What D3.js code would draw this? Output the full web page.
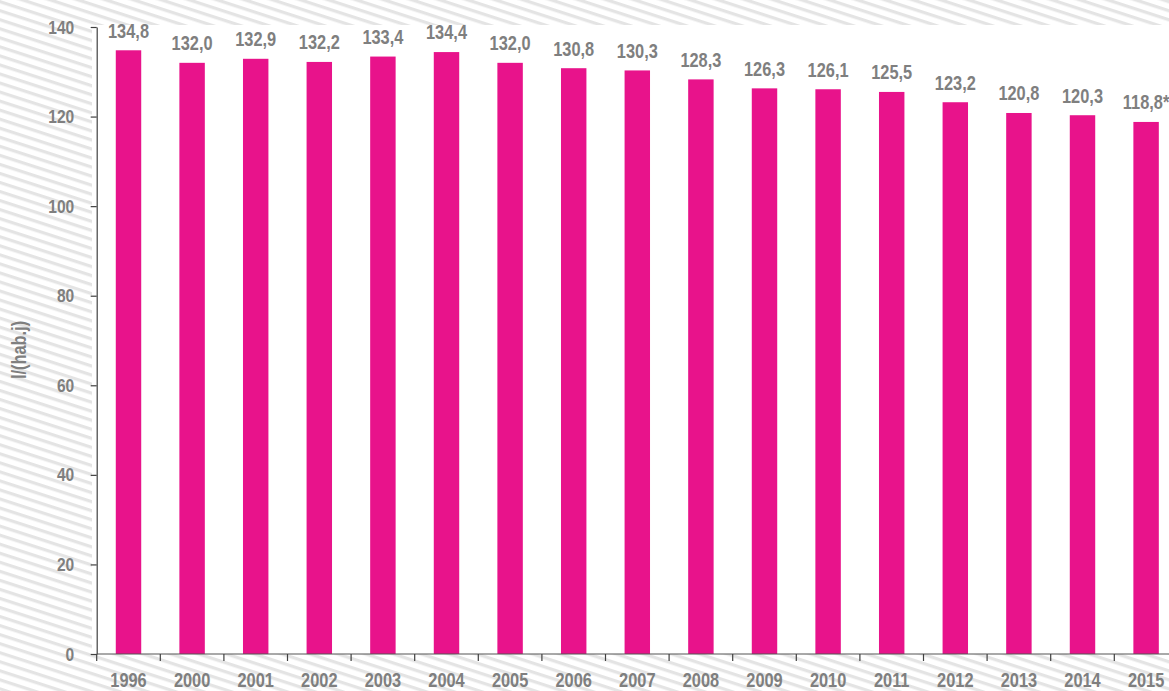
<!DOCTYPE html>
<html>
<head>
<meta charset="utf-8">
<script src="https://cdn.jsdelivr.net/npm/d3@7"></script>
<style>
    body { margin: 0; background: #fff; }
    svg { display: block; }
    text { font-family: "Liberation Sans", Arial, sans-serif; font-weight: bold; fill: #7f7f7f; }
</style>
</head>
<body>
<div id="chart"></div>
<script>
// Chart size
const width = 1169;
const height = 691;

// Data
const years = ["1996", "2000", "2001", "2002", "2003", "2004", "2005", "2006", "2007",
    "2008", "2009", "2010", "2011", "2012", "2013", "2014", "2015"];
const values = [134.8, 132.0, 132.9, 132.2, 133.4, 134.4, 132.0, 130.8, 130.3,
    128.3, 126.3, 126.1, 125.5, 123.2, 120.8, 120.3, 118.8];
const labels = ["134,8", "132,0", "132,9", "132,2", "133,4", "134,4", "132,0", "130,8", "130,3",
    "128,3", "126,3", "126,1", "125,5", "123,2", "120,8", "120,3", "118,8*"];
const yTicks = [0, 20, 40, 60, 80, 100, 120, 140];
const yTitle = "l/(hab.j)";

// Style
const STYLES = {
    bar: "#e8138b",
    text: "#7f7f7f",
    stripe: "#e4e4e4",
    axis: "#404040",
    narrow: 0.82   // horizontal squeeze, gives a condensed look
};

const svg = d3.select("#chart")
    .append("svg")
    .attr("width", width)
    .attr("height", height);

// Striped background
const pattern = svg.append("defs")
    .append("pattern")
    .attr("id", "stripes")
    .attr("patternUnits", "userSpaceOnUse")
    .attr("width", 20)
    .attr("height", 8.6)
    .attr("patternTransform", "rotate(18)");
pattern.append("rect")
    .attr("width", 20).attr("height", 8.6).attr("fill", "#fff");
pattern.append("rect")
    .attr("y", 0).attr("width", 20).attr("height", 3.2).attr("fill", STYLES.stripe);

svg.append("rect")
    .attr("width", width)
    .attr("height", height)
    .attr("fill", "url(#stripes)");

// Scales
const x = d3.scaleBand()
    .domain(years)
    .range([96.7, 1177.9])
    .paddingInner(0.6)
    .paddingOuter(0.3);

const y = d3.scaleLinear()
    .domain([0, 140])
    .range([654, 27]);

// White plot area
svg.append("rect")
    .attr("x", 92)
    .attr("y", 25)
    .attr("width", width - 92)
    .attr("height", y(0) - 25)
    .attr("fill", "#fff");

// Bars
svg.selectAll("rect.bar")
    .data(years)
    .enter()
    .append("rect")
    .attr("class", "bar")
    .attr("x", d => x(d))
    .attr("y", (d, i) => y(values[i]))
    .attr("width", x.bandwidth())
    .attr("height", (d, i) => y(0) - y(values[i]))
    .attr("fill", STYLES.bar);

// Value labels
svg.selectAll("text.value")
    .data(years)
    .enter()
    .append("text")
    .attr("class", "value")
    .attr("transform", (d, i) =>
        `translate(${x(d) + x.bandwidth() / 2},${y(values[i]) - 12.6}) scale(${STYLES.narrow},1)`)
    .attr("text-anchor", "middle")
    .style("font-size", "20px")
    .text((d, i) => labels[i]);

// Y axis
const yAxis = svg.append("g")
    .attr("transform", `translate(${x.range()[0]},0)`)
    .call(d3.axisLeft(y).tickValues(yTicks).tickSize(6).tickSizeOuter(0));
yAxis.select(".domain").attr("stroke", STYLES.axis).attr("stroke-width", 1.2);
yAxis.selectAll(".tick line").attr("stroke", STYLES.axis).attr("stroke-width", 1.2);
yAxis.selectAll(".tick text")
    .attr("x", 0)
    .attr("transform", `translate(-22.5,0) scale(${STYLES.narrow},1)`)
    .style("font-size", "19px")
    .style("font-family", "\"Liberation Sans\", Arial, sans-serif")
    .style("font-weight", "bold")
    .attr("fill", STYLES.text);

// X axis line and ticks at band boundaries
const step = x.step();
const offset = (step - x.bandwidth()) / 2;
const boundaries = years.map(d => x(d) - offset).concat([x(years[years.length - 1]) - offset + step]);

svg.append("line")
    .attr("x1", x.range()[0])
    .attr("x2", width)
    .attr("y1", y(0))
    .attr("y2", y(0))
    .attr("stroke", "#555")
    .attr("stroke-width", 1.2);

svg.selectAll("line.xtick")
    .data(boundaries)
    .enter()
    .append("line")
    .attr("class", "xtick")
    .attr("x1", d => d)
    .attr("x2", d => d)
    .attr("y1", y(0))
    .attr("y2", y(0) + 7)
    .attr("stroke", STYLES.axis)
    .attr("stroke-width", 1.2);

svg.selectAll("text.year")
    .data(years)
    .enter()
    .append("text")
    .attr("class", "year")
    .attr("transform", d => `translate(${x(d) + x.bandwidth() / 2},687) scale(${STYLES.narrow},1)`)
    .attr("text-anchor", "middle")
    .style("font-size", "20px")
    .text(d => d);

// Y axis title
svg.append("text")
    .attr("transform", `translate(26,350) rotate(-90) scale(${STYLES.narrow},1)`)
    .attr("text-anchor", "middle")
    .style("font-size", "20px")
    .text(yTitle);
</script>
</body>
</html>
